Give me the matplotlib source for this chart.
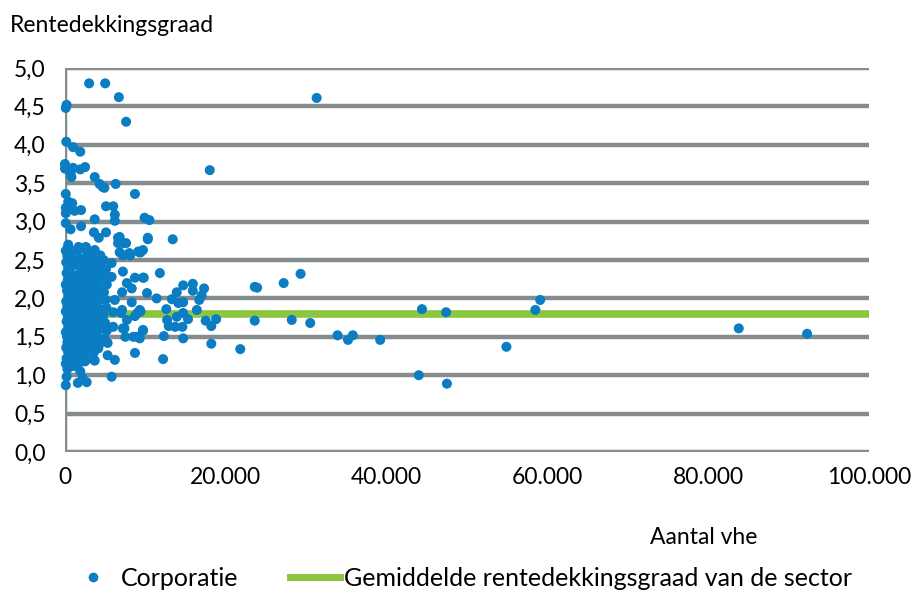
import matplotlib.pyplot as plt
from matplotlib.lines import Line2D

# Rentedekkingsgraad per corporatie vs aantal vhe
# losse punten rechts en boven
x_out = [3000, 5000, 6700, 7600, 200, 100, 31300, 18000, 160, 1000, 1900,
         0, 0, 1000, 1900, 2500, 700, 3700, 4300, 4900, 4700, 6300, 8700,
         100, 400, 900, 100, 100, 1200, 2000, 3700, 5100, 6000, 6200, 6200,
         9900, 10500, 100, 700, 2000, 3600, 4200, 5100, 6600, 6800, 7200, 10300,
         400, 1700, 2600, 600, 800]
y_out = [4.80, 4.80, 4.62, 4.30, 4.52, 4.48, 4.61, 3.67, 4.04, 3.97, 3.91,
         3.75, 3.69, 3.70, 3.68, 3.71, 3.63, 3.58, 3.49, 3.44, 3.45, 3.49, 3.36,
         3.36, 3.26, 3.24, 3.18, 3.11, 3.14, 3.15, 3.03, 3.20, 3.20, 3.09, 3.01,
         3.05, 3.02, 2.98, 2.90, 2.94, 2.86, 2.79, 2.86, 2.79, 2.80, 2.72, 2.79,
         2.70, 2.67, 2.67, 3.19, 3.58]

# middengroep 6.000 - 22.000
x_mid = [10300, 13400, 9400, 11800, 9800, 10200, 11400, 13300, 13900, 14700,
         15900, 15900, 17300, 17000, 16700, 14100, 14700, 9400, 12600, 16400,
         12700, 13900, 14700, 15300, 12900, 13700, 14600, 17500, 18800, 18200,
         9700, 9300, 12300, 14700, 18200, 21800, 12200,
         5800, 7200, 8100, 9100, 5800, 7700, 8700, 9700, 7100, 8300, 6200, 8300,
         9300, 7100, 6000, 7700, 8700, 6000, 7200, 9700, 7500, 8500, 9000, 5300,
         8700, 6200, 3600, 5800, 7000, 9000, 7400, 5300, 3700, 6600, 7600, 6800,
         7200, 8000, 9300, 9700]
y_mid = [2.77, 2.77, 2.60, 2.33, 2.27, 2.07, 2.00, 1.99, 2.08, 2.17,
         2.19, 2.10, 2.13, 2.04, 1.98, 1.94, 1.95, 1.83, 1.86, 1.85,
         1.72, 1.76, 1.81, 1.73, 1.64, 1.63, 1.63, 1.71, 1.73, 1.64,
         1.58, 1.48, 1.51, 1.48, 1.41, 1.34, 1.21,
         2.46, 2.35, 2.56, 2.61, 2.28, 2.20, 2.27, 2.27, 2.08, 2.13, 1.98, 1.95,
         1.85, 1.85, 1.82, 1.72, 1.77, 1.63, 1.61, 1.59, 1.50, 1.50, 1.50, 1.42,
         1.29, 1.20, 1.20, 0.98, 1.81, 1.81, 1.61, 1.26, 1.19, 2.72, 2.72, 2.60,
         2.56, 2.59, 2.60, 2.63]

# grote corporaties
x_big = [23600, 23900, 27200, 29300, 23600, 28200, 30500, 33900, 35200, 35800,
         39200, 44400, 47400, 44000, 47500, 54900, 58500, 59100, 83800, 92300]
y_big = [2.15, 2.14, 2.20, 2.32, 1.71, 1.72, 1.68, 1.52, 1.46, 1.52,
         1.46, 1.86, 1.82, 1.00, 0.89, 1.37, 1.85, 1.98, 1.61, 1.54]

# dichte wolk kleine corporaties 0 - 5.000
x_dense = [100, 300, 150, 400, 200, 350, 100, 250, 400, 150, 300, 100, 350, 200,
           400, 100, 250, 300, 150, 400, 200, 100, 300,
           800, 1100, 900, 1200, 850, 1000, 1150, 800, 950, 1200, 900, 1050, 850,
           1150, 1000, 800, 1200, 900, 1100,
           1600, 1900, 1700, 2000, 1650, 1850, 1950, 1600, 1800, 2000, 1700, 1900,
           1650, 1850, 1750, 1600, 2000, 1800, 1700, 1900,
           2400, 2700, 2500, 2800, 2450, 2650, 2750, 2400, 2600, 2800, 2500, 2700,
           2450, 2650, 2550, 2400, 2800, 2600, 2500,
           3200, 3500, 3300, 3600, 3250, 3450, 3550, 3200, 3400, 3600, 3300, 3500,
           3250, 3450, 3350, 3200, 3600,
           4000, 4300, 4100, 4400, 4050, 4250, 4350, 4000, 4200, 4400, 4100, 4300,
           4050, 4250, 4150,
           4800, 5100, 4900, 5200, 4850, 5050, 5150, 4800, 5000, 5200, 4900,
           400, 1600, 2600, 3700, 4400, 200, 1600, 2200, 2700, 100]
y_dense = [2.62, 2.55, 2.47, 2.40, 2.33, 2.25, 2.18, 2.10, 2.03, 1.96, 1.90, 1.83,
           1.76, 1.70, 1.63, 1.56, 1.50, 1.43, 1.36, 1.30, 1.22, 1.15, 1.08,
           2.58, 2.50, 2.42, 2.30, 2.22, 2.14, 2.05, 1.98, 1.91, 1.84, 1.77, 1.68,
           1.60, 1.52, 1.45, 1.38, 1.30, 1.22, 1.12,
           2.63, 2.52, 2.44, 2.36, 2.28, 2.20, 2.12, 2.04, 1.95, 1.88, 1.80, 1.72,
           1.65, 1.57, 1.49, 1.40, 1.33, 1.25, 1.15, 1.05,
           2.65, 2.55, 2.45, 2.38, 2.30, 2.21, 2.13, 2.06, 1.97, 1.90, 1.82, 1.74,
           1.67, 1.58, 1.50, 1.42, 1.35, 1.27, 1.18,
           2.60, 2.48, 2.40, 2.32, 2.24, 2.15, 2.07, 2.00, 1.92, 1.85, 1.77, 1.70,
           1.62, 1.54, 1.46, 1.38, 1.30,
           2.55, 2.45, 2.35, 2.27, 2.18, 2.10, 2.02, 1.94, 1.86, 1.78, 1.70, 1.60,
           1.50, 1.40, 1.35,
           2.50, 2.38, 2.28, 2.18, 2.08, 1.98, 1.88, 1.78, 1.68, 1.58, 1.48,
           2.67, 2.65, 2.65, 2.63, 2.56, 0.98, 0.90, 0.96, 0.91, 0.87]

gemiddelde = 1.8
x_lim = [0, 100000]

yticks = [0.0, 0.5, 1.0, 1.5, 2.0, 2.5, 3.0, 3.5, 4.0, 4.5, 5.0]
ytick_labels = ['0,0', '0,5', '1,0', '1,5', '2,0', '2,5', '3,0', '3,5', '4,0', '4,5', '5,0']
xticks = [0, 20000, 40000, 60000, 80000, 100000]
xtick_labels = ['0', '20.000', '40.000', '60.000', '80.000', '100.000']

blauw = '#0b7dc2'
groen = '#8cc63f'
grijs = '#868c8e'

plt.rcParams['font.family'] = ['Lato', 'DejaVu Sans']

fig = plt.figure(figsize=(9.14, 5.98), dpi=100)
ax = fig.add_axes([0.0711, 0.2441, 0.8797, 0.6422])

for yv in yticks:
    ax.axhline(yv, color=grijs, lw=3.2, zorder=1)
ax.axvline(0, color=grijs, lw=3.2, zorder=1)

ax.plot(x_lim, [gemiddelde, gemiddelde], color=groen, lw=5.5, solid_capstyle='butt', zorder=2)

x_all = x_out + x_mid + x_big + x_dense
y_all = y_out + y_mid + y_big + y_dense
ax.scatter(x_all, y_all, s=52, color=blauw, edgecolors='none', zorder=3, clip_on=False)

ax.set_xlim(0, 100000)
ax.set_ylim(0, 5)
for s in ax.spines.values():
    s.set_visible(False)
ax.set_yticks(yticks)
ax.set_yticklabels(ytick_labels, fontsize=16.5)
ax.set_xticks(xticks)
ax.set_xticklabels(xtick_labels, fontsize=16.5)
ax.tick_params(length=0)
ax.tick_params(axis='x', pad=11)
ax.tick_params(axis='y', pad=14)

fig.text(0.011, 0.958, 'Rentedekkingsgraad', fontsize=16.5, va='center')
fig.text(0.770, 0.102, 'Aantal vhe', fontsize=16.5, va='center', ha='center')

handles = [Line2D([], [], marker='o', ls='none', color=blauw, markersize=6),
           Line2D([], [], color=groen, lw=5)]
fig.legend(handles, ['Corporatie', 'Gemiddelde rentedekkingsgraad van de sector'],
           loc='center', bbox_to_anchor=(0.503, 0.033), ncol=2, frameon=False,
           fontsize=18, handlelength=2.0, columnspacing=2.05, handletextpad=0.15)

fig.savefig('out.png', dpi=100)
